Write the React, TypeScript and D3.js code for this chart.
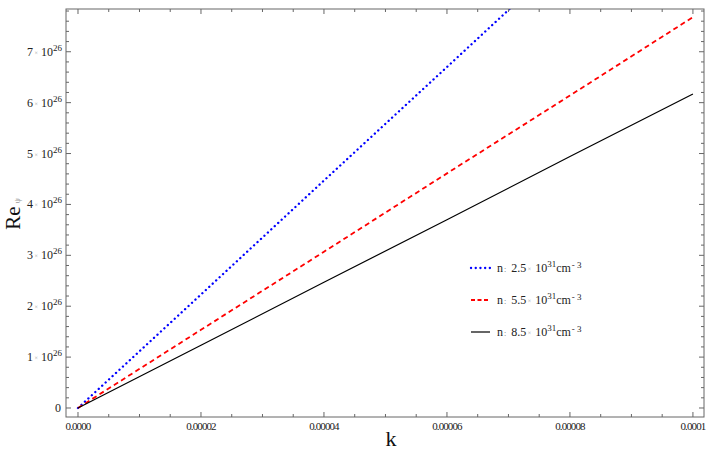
import React from "react";
import * as d3 from "d3";

const kValues = [0, 0.00002, 0.00004, 0.00006, 0.00008, 0.0001];
const seriesBlue = [0, 2.23e26, 4.47e26, 6.7e26, 8.94e26, 11.17e26];
const seriesRed = [0, 1.536e26, 3.07e26, 4.61e26, 6.14e26, 7.68e26];
const seriesBlack = [0, 1.234e26, 2.47e26, 3.7e26, 4.94e26, 6.17e26];
const legendLabels = ["2.5", "5.5", "8.5"];
const xTickLabels = ["0.0000", "0.00002", "0.00004", "0.00006", "0.00008", "0.0001"];
const yTickMantissas = ["0", "1", "2", "3", "4", "5", "6", "7"];

const W = 708;
const H = 454;
const L = 66, R = 704, T = 9, B = 417;

export default function App() {
  const x = d3.scaleLinear().domain([-0.00000195, 0.0001018]).range([L, R]);
  const y = d3.scaleLinear().domain([-0.177e26, 7.84e26]).range([B, T]);

  const series = [
    { vals: seriesBlue, color: "#0000ff", dash: "0.1 4.6", cap: "round" as const, w: 2.3 },
    { vals: seriesRed, color: "#ff0000", dash: "5 3.5", cap: "butt" as const, w: 1.8 },
    { vals: seriesBlack, color: "#000000", dash: "none", cap: "butt" as const, w: 1.2 },
  ];

  const line = (vals: number[]) =>
    d3.line<number>().x((_, i) => x(kValues[i])).y((d) => y(d))(vals) || "";

  const xMajor = d3.range(0, 6).map((i) => i * 0.00002);
  const xMinor = d3.range(0, 21).map((i) => i * 0.000005).filter((v, i) => i % 4 !== 0);
  const yMajor = d3.range(0, 8).map((i) => i * 1e26);
  const yMinor = d3.range(-0, 40).map((i) => i * 0.2e26).filter((v, i) => i % 5 !== 0 && v <= 7.84e26);

  const frame = "#666";
  const font = "'Liberation Serif', 'DejaVu Serif', serif";

  return (
    <svg width={W} height={H} style={{ position: "absolute", left: 0, top: 0, fontFamily: font }}>
      <rect x={0} y={0} width={W} height={H} fill="#fff" />
      <defs>
        <clipPath id="plotclip">
          <rect x={L} y={T} width={R - L} height={B - T} />
        </clipPath>
      </defs>
      <g clipPath="url(#plotclip)">
        {series.map((s, i) => (
          <path
            key={i}
            d={line(s.vals)}
            fill="none"
            stroke={s.color}
            strokeWidth={s.w}
            strokeDasharray={s.dash}
            strokeLinecap={s.cap}
          />
        ))}
      </g>
      <rect x={L} y={T} width={R - L} height={B - T} fill="none" stroke={frame} strokeWidth={1} />
      {/* x ticks */}
      {xMajor.map((v, i) => (
        <g key={"xm" + i}>
          <line x1={x(v)} x2={x(v)} y1={B} y2={B - 5} stroke={frame} />
          <line x1={x(v)} x2={x(v)} y1={T} y2={T + 5} stroke={frame} />
          <text x={x(v)} y={B + 13} fontSize={11} textAnchor="middle" letterSpacing={-0.9} fill="#222">
            {xTickLabels[i]}
          </text>
        </g>
      ))}
      {xMinor.map((v, i) => (
        <g key={"xn" + i}>
          <line x1={x(v)} x2={x(v)} y1={B} y2={B - 3} stroke={frame} />
          <line x1={x(v)} x2={x(v)} y1={T} y2={T + 3} stroke={frame} />
        </g>
      ))}
      {/* y ticks */}
      {yMajor.map((v, i) => (
        <g key={"ym" + i}>
          <line x1={L} x2={L + 5} y1={y(v)} y2={y(v)} stroke={frame} />
          <line x1={R} x2={R - 5} y1={y(v)} y2={y(v)} stroke={frame} />
          {i === 0 ? (
            <text x={61} y={y(v) + 4} fontSize={12} textAnchor="end" fill="#222">0</text>
          ) : (
            <g>
              <text x={27} y={y(v) + 4} fontSize={12} fill="#222">{yTickMantissas[i]}</text>
              <text x={34.5} y={y(v) + 3} fontSize={6} fill="#999">×</text>
              <text x={62} y={y(v) + 4} fontSize={12} textAnchor="end" fill="#222">
                10<tspan fontSize={9} dy={-5}>26</tspan>
              </text>
            </g>
          )}
        </g>
      ))}
      {yMinor.map((v, i) => (
        <g key={"yn" + i}>
          <line x1={L} x2={L + 3} y1={y(v)} y2={y(v)} stroke={frame} />
          <line x1={R} x2={R - 3} y1={y(v)} y2={y(v)} stroke={frame} />
        </g>
      ))}
      {/* axis labels */}
      <text x={391} y={446} fontSize={22} textAnchor="middle" fill="#111">k</text>
      <text transform="translate(20,214) rotate(-90)" fontSize={21} textAnchor="middle" fill="#111">
        Re<tspan fontSize={8} fill="#999" dx={3}>ψ</tspan>
      </text>
      {/* legend */}
      {series.map((s, i) => {
        const ly = 268 + i * 32;
        return (
          <g key={"lg" + i}>
            <line
              x1={471}
              x2={490}
              y1={ly}
              y2={ly}
              stroke={s.color}
              strokeWidth={s.w}
              strokeDasharray={s.dash === "5 3.5" ? "4 2.5" : s.dash}
              strokeLinecap={s.cap}
            />
            <text x={497} y={ly + 4} fontSize={12} fill="#222">
              n<tspan fontSize={8} fill="#666" dx={1}>:</tspan>
              <tspan dx={5}>{legendLabels[i]}</tspan>
              <tspan fontSize={6} fill="#999" dx={1.5} dy={-1}>×</tspan>
              <tspan dx={4} dy={1}>10</tspan>
              <tspan fontSize={9} dy={-5}>31</tspan>
              <tspan dy={5}>cm</tspan>
              <tspan fontSize={9} dx={1} dy={-4}>- 3</tspan>
            </text>
          </g>
        );
      })}
    </svg>
  );
}
